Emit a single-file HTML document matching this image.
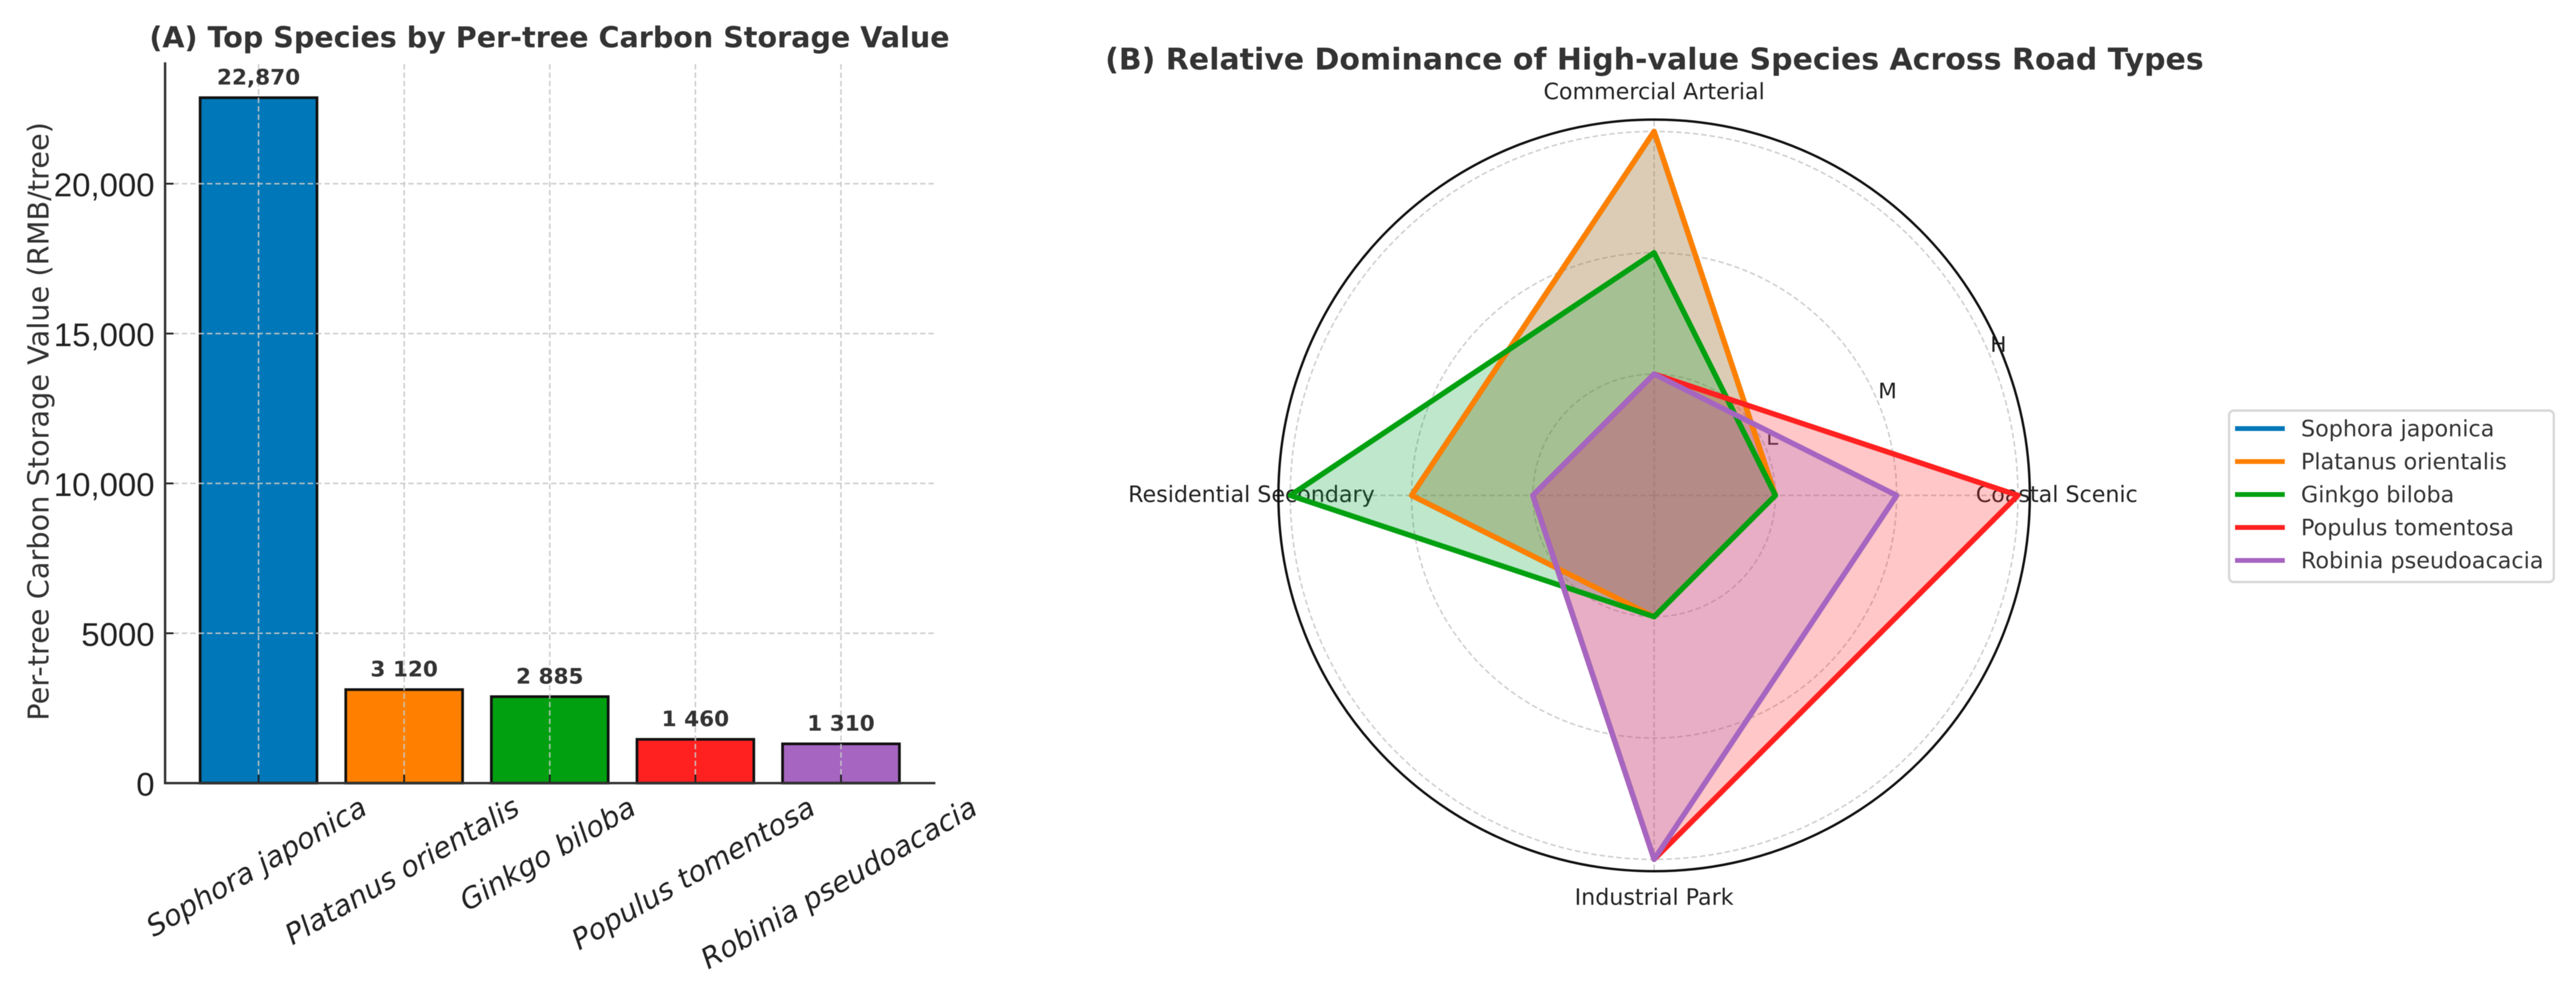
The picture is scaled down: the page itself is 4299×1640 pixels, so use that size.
<!DOCTYPE html>
<html lang="en">
<head>
<meta charset="utf-8">
<title>Carbon storage value and road type dominance</title>
<style>
  html, body { margin: 0; padding: 0; background: #fff; width: 4299px; height: 1640px; overflow: hidden; }
  svg { display: block; filter: blur(0.6px); }
  text { font-family: "DejaVu Sans", sans-serif; }
</style>
</head>
<body>
<svg id="chart" xmlns="http://www.w3.org/2000/svg" width="4299" height="1640" viewBox="0 0 4299 1640">
  <rect x="0" y="0" width="4299" height="1640" fill="#ffffff"/>
  <g id="panelA"></g>
  <g id="panelB"></g>
  <g id="legend"></g>
</svg>
<script>
// ---- Panel A data ----
const species = ['Sophora japonica', 'Platanus orientalis', 'Ginkgo biloba', 'Populus tomentosa', 'Robinia pseudoacacia'];
const carbonValues = [22870, 3120, 2885, 1460, 1310];
const valueLabels = ['22,870', '3 120', '2 885', '1 460', '1 310'];
const yTicks = [0, 5000, 10000, 15000, 20000];
const yTickLabels = ['0', '5000', '10,000', '15,000', '20,000'];

// ---- Panel B data ----
const roadTypes = ['Coastal Scenic', 'Commercial Arterial', 'Residential Secondary', 'Industrial Park'];
const sophoraScores = [1, 3, 2, 1];
const platanusScores = [1, 3, 2, 1];
const ginkgoScores = [1, 2, 3, 1];
const populusScores = [3, 1, 1, 3];
const robiniaScores = [2, 1, 1, 3];
const radialTicks = [1, 2, 3];
const radialTickLabels = ['L', 'M', 'H'];

const seriesColors = ['#0077b8', '#ff8000', '#00a010', '#ff2020', '#a565c0'];
const fillColors = ['#0077b8', '#ff8000', '#00a030', '#ff2020', '#a565c0'];
const fillOpacities = [0.18, 0.25, 0.25, 0.25, 0.25];

const NS = 'http://www.w3.org/2000/svg';
function make(tag, parent, attrs, txt) {
  const el = document.createElementNS(NS, tag);
  for (const k in attrs) el.setAttribute(k, attrs[k]);
  if (txt !== undefined) el.textContent = txt;
  parent.appendChild(el);
  return el;
}

// ---- Panel A axes ----
const axisLeft = 275.5, axisRight = 1561, axisTop = 104, axisBottom = 1306.5;
const xBand = i => 431.5 + i * 243;
const barW = 195;
const yScale = v => axisBottom - v * 0.05;
const A = document.getElementById('panelA');
const GRID = { stroke: '#c8c8c8', 'stroke-width': 2.5, 'stroke-dasharray': '9 5', 'stroke-opacity': 0.9 };

let el = make('text', A, { x: 917, y: 79, 'text-anchor': 'middle', 'font-size': 47.7, 'font-weight': 'bold', fill: '#333333' }, '(A) Top Species by Per-tree Carbon Storage Value');



el = make('text', A, { transform: 'translate(81 703) rotate(-90)', 'text-anchor': 'middle', 'font-size': 48, fill: '#333333' }, 'Per-tree Carbon Storage Value (RMB/tree)');



species.forEach((name, i) => {
  const v = carbonValues[i];
  const bar = make('rect', A, { x: xBand(i) - barW / 2, y: yScale(v), width: barW, height: axisBottom - yScale(v), fill: seriesColors[i], stroke: '#111111', 'stroke-width': 4.5 });
  
  
});

yTicks.forEach((t, i) => {
  const y = yScale(t);
  if (t > 0) {
    const g = make('line', A, Object.assign({ x1: axisLeft, x2: 1559, y1: y, y2: y }, GRID));
    
    
  }
  const tick = make('line', A, { x1: axisLeft, x2: axisLeft + 14, y1: y, y2: y, stroke: '#222222', 'stroke-width': 3 });
  
  
  const lab = make('text', A, { x: 258, y: y + 21, 'text-anchor': 'end', 'font-size': 55, fill: '#222222', style: 'font-family:"Liberation Sans",sans-serif' }, yTickLabels[i]);
  
  
});

species.forEach((name, i) => {
  const x = xBand(i);
  const g = make('line', A, Object.assign({ x1: x, x2: x, y1: 107, y2: axisBottom }, GRID));
  
  
  const tick = make('line', A, { x1: x, x2: x, y1: axisBottom, y2: axisBottom - 14, stroke: '#222222', 'stroke-width': 3 });
  
  
  const vl = make('text', A, { x: x, y: yScale(carbonValues[i]) - 22, 'text-anchor': 'middle', 'font-size': 36, 'font-weight': 'bold', fill: '#333333' }, valueLabels[i]);
  
  
  const xl = make('text', A, { 'text-anchor': 'middle', 'font-size': 47.8, 'font-style': 'italic', fill: '#222222' }, name);
  
  
  const len = xl.getComputedTextLength();
  xl.setAttribute('transform', 'translate(' + (x + 4.5) + ' ' + (1333 + len / 4 + 23.6) + ') rotate(-30)');
});

el = make('line', A, { x1: axisLeft, x2: axisLeft, y1: axisTop, y2: axisBottom + 2, stroke: '#333333', 'stroke-width': 4 });


el = make('line', A, { x1: axisLeft - 2, x2: axisRight, y1: axisBottom, y2: axisBottom, stroke: '#333333', 'stroke-width': 4 });



// ---- Panel B axes ----
const cx = 2760.5, cy = 826.5, unitR = 202.4, outerR = 627;
const rScale = v => v * unitR;
const angle = i => i * Math.PI / 2;
const polar = (i, v) => [cx + rScale(v) * Math.cos(angle(i)), cy - rScale(v) * Math.sin(angle(i))];
const B = document.getElementById('panelB');

el = make('text', B, { x: 2761, y: 116, 'text-anchor': 'middle', 'font-size': 50, 'font-weight': 'bold', fill: '#333333' }, '(B) Relative Dominance of High-value Species Across Road Types');



radialTicks.forEach(t => {
  const c = make('circle', B, Object.assign({ cx: cx, cy: cy, r: rScale(t), fill: 'none' }, GRID));
  
  
});
roadTypes.forEach((road, i) => {
  const l = make('line', B, Object.assign({ x1: cx, y1: cy, x2: cx + outerR * Math.cos(angle(i)), y2: cy - outerR * Math.sin(angle(i)) }, GRID));
  
  
  const labelR = 672;
  const lab = make('text', B, { x: cx + labelR * Math.cos(angle(i)), y: cy - labelR * Math.sin(angle(i)) + 11, 'text-anchor': 'middle', 'font-size': 37, fill: '#222222' }, road);
  
  
});
radialTicks.forEach((t, i) => {
  const a = 22.5 * Math.PI / 180;
  const lab = make('text', B, { x: cx + rScale(t) * Math.cos(a), y: cy - rScale(t) * Math.sin(a) - 7, 'font-size': 36, fill: '#222222' }, radialTickLabels[i]);
  
  
});

const radarSeries = [sophoraScores, platanusScores, ginkgoScores, populusScores, robiniaScores];
// fills first, then all outlines on top so the line colours stay pure
radarSeries.forEach((scores, s) => {
  const pts = scores.map((v, i) => polar(i, v).join(',')).join(' ');
  const poly = make('polygon', B, { points: pts, fill: fillColors[s], 'fill-opacity': fillOpacities[s], stroke: 'none' });
  
  
});
radarSeries.forEach((scores, s) => {
  const pts = scores.map((v, i) => polar(i, v).join(',')).join(' ');
  const poly = make('polygon', B, { points: pts, fill: 'none', stroke: seriesColors[s], 'stroke-width': 9, 'stroke-linejoin': 'round' });
  
  
});

el = make('circle', B, { cx: cx, cy: cy, r: outerR, fill: 'none', stroke: '#111111', 'stroke-width': 4 });



// ---- Legend ----
const L = document.getElementById('legend');
el = make('rect', L, { x: 3720, y: 685, width: 542, height: 286, rx: 8, ry: 8, fill: '#ffffff', stroke: '#d8d8d8', 'stroke-width': 4 });


species.forEach((name, i) => {
  const y = 715 + i * 55;
  const sw = make('line', L, { x1: 3730, x2: 3813, y1: y, y2: y, stroke: seriesColors[i], 'stroke-width': 8 });
  
  
  const t = make('text', L, { x: 3840, y: y + 13, 'font-size': 37.2, fill: '#333333' }, name);
  
  
});
</script>
</body>
</html>
